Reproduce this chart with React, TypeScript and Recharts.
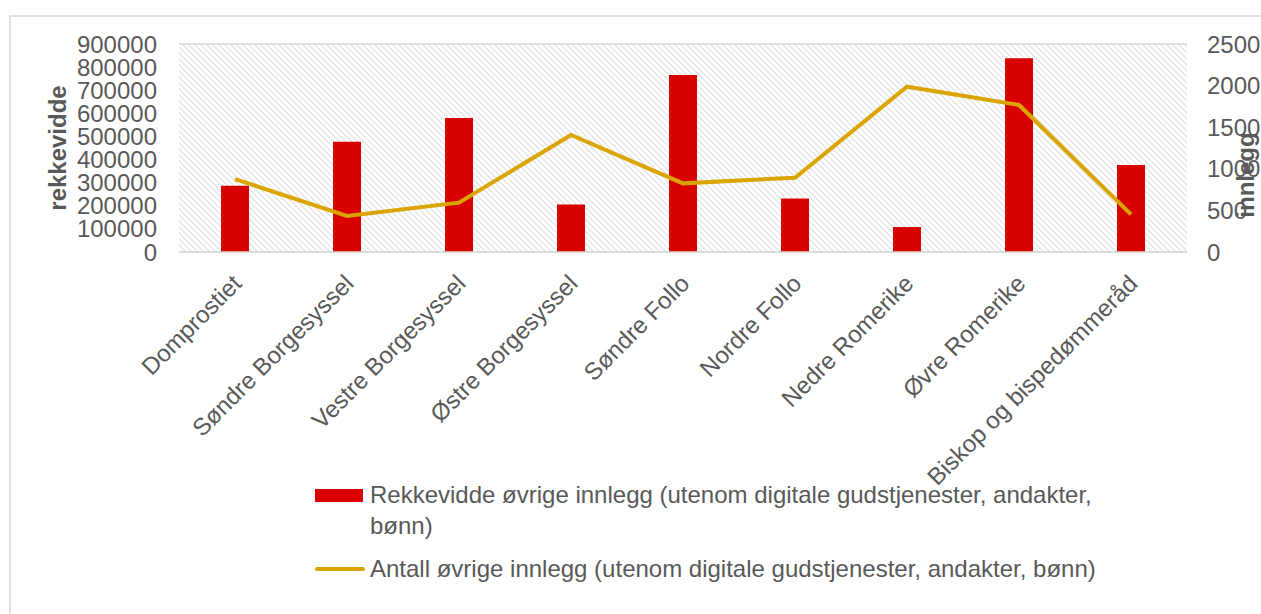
import React from 'react';
import { ComposedChart, Bar, Line, XAxis, YAxis, CartesianGrid } from 'recharts';

const categories = [
  'Domprostiet',
  'Søndre Borgesyssel',
  'Vestre Borgesyssel',
  'Østre Borgesyssel',
  'Søndre Follo',
  'Nordre Follo',
  'Nedre Romerike',
  'Øvre Romerike',
  'Biskop og bispedømmeråd',
];
const rekkevidde = [287000, 477000, 580000, 205000, 766000, 232000, 108000, 838000, 376000];
const antall = [877, 433, 593, 1406, 825, 893, 1987, 1767, 453];
const leftTicks = [0, 100000, 200000, 300000, 400000, 500000, 600000, 700000, 800000, 900000];
const rightTicks = [0, 500, 1000, 1500, 2000, 2500];

const barName = 'Rekkevidde øvrige innlegg (utenom digitale gudstjenester, andakter, bønn)';
const lineName = 'Antall øvrige innlegg (utenom digitale gudstjenester, andakter, bønn)';

const data = categories.map((name, i) => ({ name, rekkevidde: rekkevidde[i], antall: antall[i] }));

const FONT = '"Liberation Sans", Arial, sans-serif';
const FS = 24;
const TEXT = '#595959';
const RED = '#d90000';
const GOLD = '#daa500';

// rotated category labels, end of the text sits under the category
const CategoryTick = (props: any) => {
  const { x, y, payload } = props;
  const ty = y + 19;
  return (
    <text
      x={x + 2}
      y={ty}
      transform={`rotate(-45 ${x + 2} ${ty})`}
      textAnchor="end"
      dominantBaseline="central"
      fill={TEXT}
      fontSize={FS}
      fontFamily={FONT}
    >
      {payload.value}
    </text>
  );
};

export default function App() {
  return (
    <div style={{ position: 'absolute', left: 0, top: 0, width: 1261, height: 614, overflow: 'hidden', background: '#fff', fontFamily: FONT }}>
      <svg width={0} height={0} style={{ position: 'absolute' }}>
        <defs>
          <pattern id="hatch" width={6} height={6} patternUnits="userSpaceOnUse">
            <rect width={6} height={6} fill="#ffffff" />
            <path d="M-1,-1 L7,7 M-4,2 L4,10 M2,-4 L10,4" stroke="#e4e4e4" strokeWidth={1.3} />
          </pattern>
        </defs>
      </svg>
      <div style={{ position: 'absolute', left: 9, top: 15, width: 1300, height: 700, border: '2px solid #e0e0e0' }} />
      <div style={{ position: 'absolute', left: 0, top: 0 }}>
        <ComposedChart width={1261} height={614} data={data} margin={{ top: 44, right: 0, left: 0, bottom: 0 }}>
          <CartesianGrid vertical={false} stroke="#d9d9d9" strokeWidth={1.5} fill="url(#hatch)" fillOpacity={1} />
          <XAxis
            dataKey="name"
            height={362}
            interval={0}
            axisLine={{ stroke: '#d9d9d9', strokeWidth: 1.5 }}
            tickLine={false}
            tick={<CategoryTick />}
          />
          <YAxis
            yAxisId="left"
            width={179}
            domain={[0, 900000]}
            ticks={leftTicks}
            interval={0}
            axisLine={false}
            tickLine={false}
            tickSize={0}
            tickMargin={22}
            tick={{ fill: TEXT, fontSize: FS, fontFamily: FONT }}
            label={{ value: 'rekkevidde', angle: -90, position: 'center', dx: -32, fill: TEXT, fontSize: FS, fontWeight: 700, fontFamily: FONT }}
          />
          <YAxis
            yAxisId="right"
            orientation="right"
            width={74}
            domain={[0, 2500]}
            ticks={rightTicks}
            interval={0}
            axisLine={false}
            tickLine={false}
            tickSize={0}
            tickMargin={20}
            tick={{ fill: TEXT, fontSize: FS, fontFamily: FONT, textAnchor: 'start' }}
            label={{ value: 'innlegg', angle: -90, position: 'center', dx: 21, dy: 27, fill: TEXT, fontSize: FS, fontWeight: 700, fontFamily: FONT }}
          />
          <Bar yAxisId="left" dataKey="rekkevidde" name={barName} fill={RED} barSize={28} isAnimationActive={false} />
          <Line yAxisId="right" dataKey="antall" name={lineName} stroke={GOLD} strokeWidth={4} dot={false} activeDot={false} isAnimationActive={false} />
        </ComposedChart>
      </div>
      <div style={{ position: 'absolute', left: 315, top: 479, color: TEXT, fontSize: FS, lineHeight: '31px' }}>
        <div style={{ display: 'flex', alignItems: 'flex-start' }}>
          <span style={{ display: 'inline-block', flex: 'none', width: 48, height: 13, background: RED, marginTop: 10, marginRight: 7 }} />
          <span style={{ maxWidth: 760 }}>{barName}</span>
        </div>
        <div style={{ display: 'flex', alignItems: 'flex-start', marginTop: 12 }}>
          <span style={{ display: 'inline-block', flex: 'none', width: 50, height: 4, background: GOLD, borderRadius: 2, marginTop: 14, marginRight: 5 }} />
          <span>{lineName}</span>
        </div>
      </div>
    </div>
  );
}
